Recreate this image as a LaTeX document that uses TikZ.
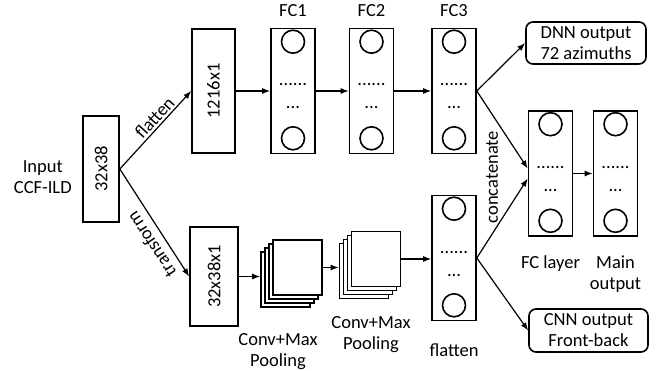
\documentclass[tikz,border=0pt]{standalone}
\usepackage{fontspec}
\setmainfont{Carlito}
\usetikzlibrary{positioning,arrows.meta}

\tikzset{
  rbox/.style={draw, line width=1.6pt, inner sep=0pt},
  nbox/.style={rbox, minimum width=44pt, minimum height=125pt},
  fmap/.style={rbox, fill=white, minimum width=49pt, minimum height=55pt},
  outbox/.style={rbox, rounded corners=7pt, minimum width=120pt, minimum height=42pt, align=center},
  ncirc/.style={line width=1.6pt},
  arr/.style={->, line width=1.2pt},
}

% box of neurons: name, centre
\newcommand{\nlayer}[2]{%
  \node[nbox] (#1) at (#2) {};
  \draw[ncirc] ([yshift=-14pt]#1.north) circle (11.5pt);
  \draw[ncirc] ([yshift=16pt]#1.south) circle (11.5pt);
  \node[anchor=base, inner sep=0pt] (#1-d1) at ([yshift=5pt]#1.center) {......};
  \node[anchor=base, inner sep=0pt] (#1-d2) at ([yshift=-18pt]#1.center) {...};
}

\begin{document}
\begin{tikzpicture}[x=1pt, y=1pt, >={Latex[length=8pt,width=6pt]},
    font=\fontsize{18.5}{21}\selectfont]
  \useasboundingbox (0,0) rectangle (664,370);

  % Input
  \node[rbox, minimum width=36pt, minimum height=106pt] (inp) at (101,201) {};
  \node[rotate=90] (inp-t) at (inp) {32x38};
  \node[left=7pt of inp, yshift=-8.5pt, align=center] (inp-l) {Input\\CCF-ILD};

  % DNN branch
  \node[rbox, minimum width=43pt, minimum height=124pt] (flat) at (213.5,279) {};
  \node[rotate=90] (flat-t) at (flat) {1216x1};
  \nlayer{FC1}{293,279}
  \nlayer{FC2}{371.5,279}
  \nlayer{FC3}{454,279}
  \node[above=7.5pt of FC1] (FC1-l) {FC1};
  \node[above=7.5pt of FC2] (FC2-l) {FC2};
  \node[above=7.5pt of FC3] (FC3-l) {FC3};
  \node[outbox] (dnn) at (586,327) {DNN output\\72 azimuths};

  % CNN branch
  \node[rbox, minimum width=48pt, minimum height=99pt] (tbox) at (214,93.5) {};
  \node[rotate=90] (tbox-t) at (tbox) {32x38x1};
  \foreach \k in {3,2,1,0}
    \node[fmap] (sa\k) at (297.5-4*\k, 102.5-4*\k) {};
  \foreach \k in {3,2,1,0}
    \node[fmap] (sb\k) at (376-4*\k, 111-4*\k) {};
  \node[below=22.5pt of sa3, xshift=-7.5pt, align=center] (sa-l) {Conv+Max\\Pooling};
  \node[below=13.5pt of sb3, xshift=7pt, align=center] (sb-l) {Conv+Max\\Pooling};
  \nlayer{lowflat}{454,112}
  \node[below=18.5pt of lowflat] (lowflat-l) {flatten};
  \node[outbox, minimum width=119pt, minimum height=43pt] (cnn) at (588.5,39.5) {CNN output\\Front-back};

  % Merge
  \nlayer{fcl}{550.5,196.5}
  \nlayer{mout}{615.5,196.5}
  \node[below=15pt of fcl] (fcl-l) {FC layer};
  \node[below=15pt of mout, align=center] (mout-l) {Main\\output};
  \node[rotate=90] (cat) at (492,193) {concatenate};

  % Connectors
  \draw[arr] (inp.east) -- node[pos=0.58, sloped, above, inner sep=2pt] (flat-lbl) {flatten} (flat.west);
  \draw[arr] (inp.east) -- node[pos=0.63, rotate=123.4, anchor=south, inner sep=7.5pt] (tr-lbl) {transform} (tbox.west);
  \draw[arr] (flat) -- (FC1);
  \draw[arr] (FC1) -- (FC2);
  \draw[arr] (FC2) -- (FC3);
  \draw[arr] (FC3.east) -- (dnn.west);
  \draw[arr] (FC3.east) -- ([yshift=5pt]fcl.west);
  \draw[arr] (lowflat.east) -- ([yshift=-5pt]fcl.west);
  \draw[arr] (lowflat.east) -- (cnn.west);
  \draw[arr] (fcl) -- (mout);
  \draw[arr] (tbox.east) -- (tbox.east -| sa3.west);
  \draw[arr] (sa0.east) -- (sa0.east -| sb3.west);
  \draw[arr] (sb0.east) -- (sb0.east -| lowflat.west);
\end{tikzpicture}
\end{document}
